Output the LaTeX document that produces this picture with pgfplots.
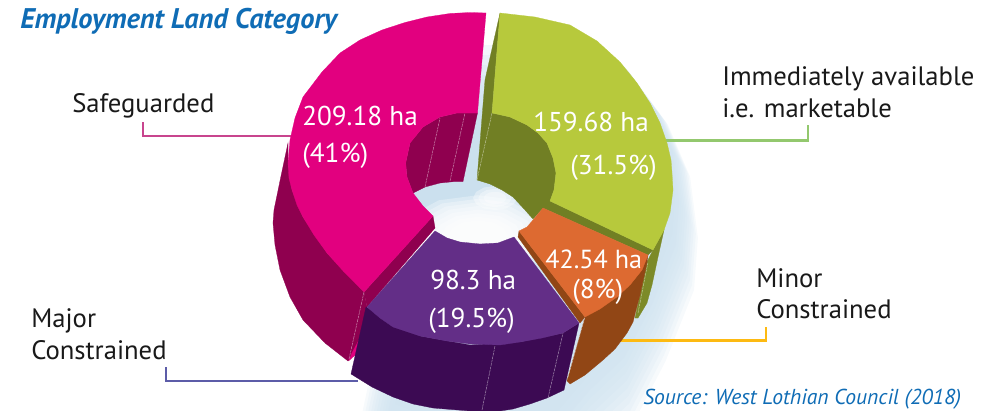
\documentclass[border=0pt]{standalone}
\usepackage{pgfplots}
\usepackage{pgfplotstable}
\pgfplotsset{compat=1.18}
\usepackage{fontspec}
\setmainfont{PT Sans}
\definecolor{pk}{HTML}{E2007F}
\definecolor{dpk}{HTML}{8F004F}
\definecolor{gr}{HTML}{B7C93C}
\definecolor{ol}{HTML}{717F24}
\definecolor{orn}{HTML}{DD6A31}
\definecolor{brn}{HTML}{914615}
\definecolor{pu}{HTML}{632E87}
\definecolor{dpu}{HTML}{3C0A53}
\definecolor{gl}{HTML}{CBE0EE}
\definecolor{tb}{HTML}{0F6CB5}
\definecolor{lp}{HTML}{C8458E}
\definecolor{lg}{HTML}{93C86E}
\definecolor{lu}{HTML}{5C5CA8}
\definecolor{ly}{HTML}{FDBA12}
\newcommand\poly[2]{\addplot[fill=#1,draw=#1,line width=0.2pt,forget plot] coordinates {#2} --cycle;}
\newcommand\seam[2]{\addplot[draw=white,opacity=.55,line width=0.35pt,dash pattern=on 2pt off 0.6pt,forget plot] coordinates {#2 #1};}
\newcommand\lbl[3]{\node[anchor=base west,inner sep=0pt,text=black!90,font=\fontsize{20pt}{20pt}\selectfont] at (axis cs:#1,#2) {#3};}
\newcommand\wlbl[3]{\node[anchor=base west,inner sep=0pt,text=white,font=\fontsize{20.4pt}{20pt}\selectfont] at (axis cs:#1,#2) {#3};}
\pgfplotstableread{
x y
620 62
650 103
667 143
673 190
670 230
648 285
622 335
590 365
560 400
520 418
450 414
400 395
420 300
}\glowtab
\pgfplotstableread{
x y
522 212
516 224
500 233
478 236
456 233
440 224
434 212
440 200
456 191
478 188
500 191
516 200
}\holetab
\begin{document}
\begin{tikzpicture}
\path[use as bounding box] (0,0) rectangle (743.25pt,307.5pt);
\begin{axis}[at={(0,0)},anchor=south west,scale only axis,width=743.25pt,height=307.5pt,
 xmin=0,xmax=991,ymin=0,ymax=410,y dir=reverse,hide axis,clip=true]
% glow
\pgfplotsinvokeforeach{1.30,1.275,1.25,1.225,1.20,1.175,1.15,1.125,1.10,1.075,1.05,1.025}{
 \addplot[fill=gl,fill opacity=.16,draw=none,forget plot] table[x expr={590+(\thisrow{x}-590)*#1},y expr={30+(\thisrow{y}-30)*#1}] {\glowtab} --cycle;
}
% leaders
\addplot[draw=lp,line width=1.8pt,forget plot] coordinates {(143,122)(143,135.7)(292,135.7)};
\addplot[draw=lg,line width=1.8pt,forget plot] coordinates {(666,140.5)(808,140.5)(808,125)};
\addplot[draw=lu,line width=1.8pt,forget plot] coordinates {(166,367)(166,381)(358,381)};
\addplot[draw=ly,line width=1.8pt,forget plot] coordinates {(620,340.5)(765.7,340.5)(765.7,327)};
% gap between the two upper slices and hole
\pgfplotsinvokeforeach{45,55,65,75,85,95}{
 \addplot[fill=gl,fill opacity=.25,draw=none,forget plot] coordinates {(465,#1)(505,#1)(505,185)(465,185)} --cycle;
}
\poly{gl}{(470,110)(440,125)(405,165)(412,195)(433,230)(460,252)(500,252)(533,228)(545,205)(520,170)(490,110)}
\pgfplotsinvokeforeach{1.7,1.55,1.4,1.25,1.1,0.95,0.8,0.65}{
 \addplot[fill=white,fill opacity=.30,draw=none,forget plot] table[x expr={478+(\thisrow{x}-478)*#1*1.05},y expr={212+24+(\thisrow{y}-212)*#1}] {\holetab} --cycle;
}
\pgfplotsinvokeforeach{0.5,0.38,0.26}{
 \addplot[fill=white,fill opacity=.35,draw=none,forget plot] table[x expr={495+(\thisrow{x}-478)*#1},y expr={198+(\thisrow{y}-212)*#1}] {\holetab} --cycle;
}
% pink side and inner
\poly{dpk}{(288,143)(281,176)(274,210)(273,223)(275,245)(280,270)(290,297)(303,320)(325,343)(348,361)(357,353)(367,307)(364,292)(327,253)(303,217)(292,190)(288,163)}
\poly{pk}{(349,360.5)(357,353)(360,338)(352,353)}
\poly{dpk}{(433,216)(364,292)(367,307)(435,228)}
\poly{dpk}{(477.5,113)(457,113)(440,117)(423,127)(410,143)(405.7,163)(407,177)(413,193)(425,187)(440,183)(455,181.5)(463,181.5)}
\seam{(440,118)}{(425,187)}
\seam{(465,113)}{(450,181)}
% pink top
\poly{pk}{(486,13)(470,12.5)(450,13.5)(427,17)(405,22.5)(382,30)(360,40)(340,53)(322,72)(303,97)(295,118)(290,140)(288,163)(289,178)(292,190)(297,205)(303,217)(314,235)(327,253)(345,273)(364,292)(433,216)(423,206)(413,193)(407,177)(405.7,163)(410,143)(423,127)(440,117)(457,113)(477.5,113)}
\seam{(364,292)}{(349,359)}
% green left side, inner, right side
\poly{ol}{(500,13)(485,80)(477,180)(490,184)(502,190)(513,197)(525,210)(533,219)(543,208)(648,255)(653,250)(550,201)(554,190)(556,173)(553,158)(547,143)(538,133)(527,125)(510,117)(492,113)}
\seam{(492,113)}{(477,180)}
\poly{ol!85!gr}{(653,250)(664,230)(658,257)(652,285)(647,303)(638,318)(635,318)(647,262)}
\seam{(648,262)}{(638,313)}
\poly{gr}{(500,13)(535,17)(570,25)(597,41)(620,62)(637,83)(650,103)(660,123)(667,143)(671,160)(672,173)(673,190)(670,213)(664,230)(653,250)(550,201)(554,190)(556,173)(553,158)(547,143)(538,133)(527,125)(510,117)(492,113)}
% orange
\poly{brn}{(519,231)(585,317)(580,323)(518,237)}
\poly{brn}{(585,317)(648,255)(647,263)(640,295)(633,322)(627,333)(615,349)(603,360)(585,375)(570,384)(567,381)}
\seam{(585,317)}{(568,377)}
\poly{orn}{(543,208)(648,255)(642,270)(630,285)(617,297)(600,309)(585,317)(519,231)(527,227)(533,220)}
% purple
\poly{dpu}{(366,307)(351,374)(372,387)(393,397)(413,404)(433,408)(470,411)(500,411)(513,409)(530,404)(547,398)(564,390)(579,323)(563,333)(520,342)(470,345)(420,336)}
\seam{(495,346)}{(482,410)}
\seam{(563,333)}{(548,398)}
\poly{pu}{(435,231)(447,238)(460,242)(480,244)(498,243)(514,237)(579,323)(563,333)(542,338)(520,342)(500,345)(470,344)(447,341)(420,336)(393,327)(380,318)(367,307)}
% texts
\node[anchor=base west,inner sep=0pt,text=tb,font=\fontsize{21.3pt}{20pt}\selectfont\bfseries\itshape] at (axis cs:20,29) {Employment Land Category};
\node[anchor=base west,inner sep=0pt,text=tb,font=\fontsize{16.2pt}{20pt}\selectfont\itshape] at (axis cs:643,404) {Source: West Lothian Council (2018)};
\lbl{72}{113}{Safeguarded}
\lbl{722}{85}{Immediately available}
\lbl{722}{117}{i.e. marketable}
\lbl{756}{287}{Minor}
\lbl{756}{318}{Constrained}
\lbl{31}{327}{Major}
\lbl{31}{359}{Constrained}
\wlbl{302}{125}{209.18 ha}
\wlbl{302}{162}{(41\%)}
\wlbl{533}{131}{159.68 ha}
\wlbl{570}{174}{(31.5\%)}
\wlbl{430}{289}{98.3 ha}
\wlbl{428}{327}{(19.5\%)}
\node[anchor=base west,inner sep=0pt,text=white,font=\fontsize{19.6pt}{20pt}\selectfont] at (axis cs:545,268) {42.54 ha};
\wlbl{572}{298}{(8\%)}
\end{axis}
\end{tikzpicture}
\end{document}
